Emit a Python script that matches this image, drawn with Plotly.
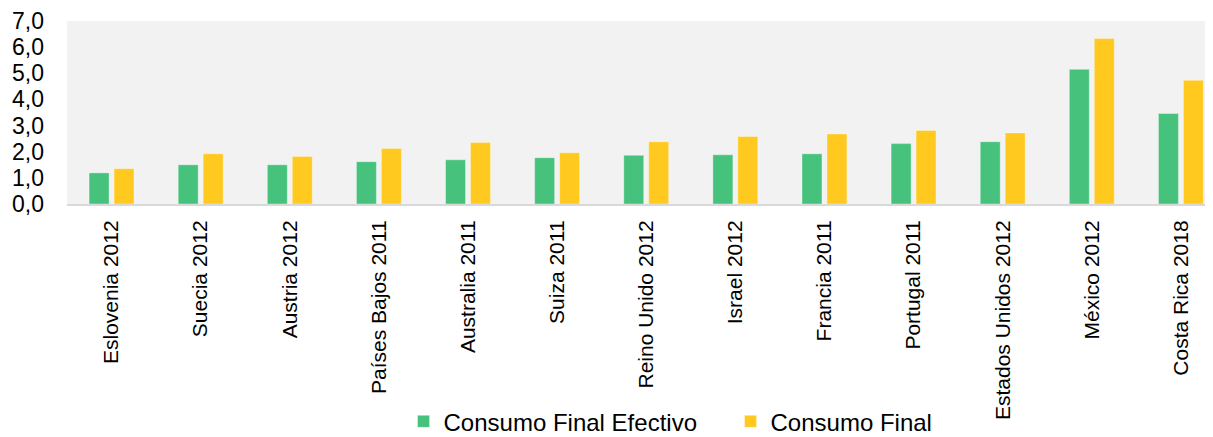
import plotly.graph_objects as go

categories = ["Eslovenia 2012", "Suecia 2012", "Austria 2012", "Países Bajos 2011",
              "Australia 2011", "Suiza 2011", "Reino Unido 2012", "Israel 2012",
              "Francia 2011", "Portugal 2011", "Estados Unidos 2012", "México 2012",
              "Costa Rica 2018"]
consumo_final_efectivo = [1.19, 1.50, 1.50, 1.62, 1.69, 1.77, 1.86, 1.88, 1.92, 2.31, 2.38, 5.15, 3.46]
consumo_final = [1.35, 1.92, 1.82, 2.12, 2.35, 1.96, 2.38, 2.58, 2.68, 2.81, 2.72, 6.33, 4.73]
y_ticks = [0, 1, 2, 3, 4, 5, 6, 7]

GREEN = "#47C27D"
YELLOW = "#FFC920"
FONT = "Liberation Sans, Arial, sans-serif"

fig = go.Figure()
fig.add_trace(go.Bar(x=categories, y=consumo_final_efectivo, name="Consumo Final Efectivo",
                     marker=dict(color=GREEN, line=dict(color="rgba(255,255,255,0.35)", width=1))))
fig.add_trace(go.Bar(x=categories, y=consumo_final, name="Consumo Final",
                     marker=dict(color=YELLOW, line=dict(color="rgba(255,255,255,0.35)", width=1))))

fig.update_layout(
    width=1205, height=429,
    margin=dict(l=59, r=0, t=13, b=233, autoexpand=False),
    paper_bgcolor="white", plot_bgcolor="#F2F2F2",
    barmode="group", bargap=0.44, bargroupgap=0.2,
    separators=",.",
    font=dict(family=FONT, size=21, color="black"),
    showlegend=True,
    legend=dict(orientation="h", x=0.579, xanchor="center", y=-1.19, yanchor="middle",
                font=dict(family=FONT, size=24, color="black"),
                entrywidth=282, entrywidthmode="pixels",
                bgcolor="rgba(0,0,0,0)", itemclick=False),
)
fig.update_xaxes(
    type="category", range=[-0.5, 12.36], tickangle=-90, automargin=False,
    showline=True, linecolor="#D9D9D9", linewidth=2, showgrid=False,
    ticks="", tickfont=dict(family=FONT, size=21, color="black"), ticklabelstandoff=6,
)
fig.update_yaxes(
    range=[0, 7], tickvals=y_ticks, tickformat=".1f", showgrid=False, zeroline=False,
    showline=False, ticks="", tickfont=dict(family=FONT, size=23, color="black"),
    ticklabelstandoff=22, automargin=False,
)

fig.write_html("out.html")
